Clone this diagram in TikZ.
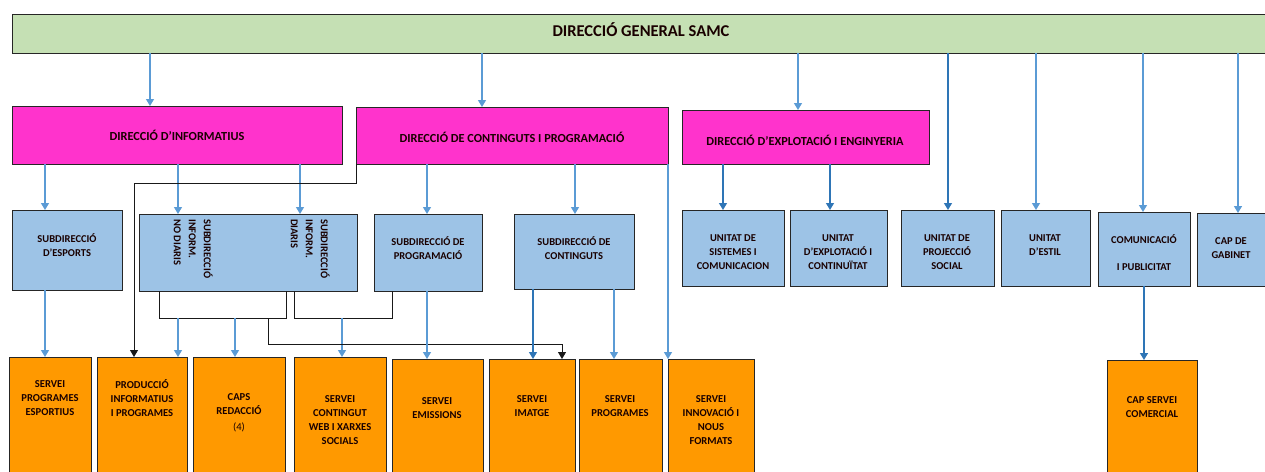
\documentclass[tikz,border=0pt]{standalone}
\usepackage{fontspec}
\setmainfont{Carlito}
\usetikzlibrary{arrows.meta}
\definecolor{gr}{HTML}{C5E0B4}
\definecolor{mag}{HTML}{FF33CC}
\definecolor{bl}{HTML}{9DC3E6}
\definecolor{org}{HTML}{FF9900}
\definecolor{ln}{HTML}{5B9BD5}
\definecolor{lnd}{HTML}{2E75B6}
\newcommand\bx[6]{\node[bxs, fill=#6, minimum width={#4-#2}, minimum height={#5-#3}, anchor=north west] (#1) at (#2,#3) {};}
\begin{document}
\begin{tikzpicture}[x=1pt,y=-1pt,
  bxs/.style={draw=black!85, line width=0.9pt, inner sep=0pt, outer sep=0pt, rectangle},
  tx/.style={align=center, inner sep=0pt, text=black!90!red},
  ttop/.style={tx, font=\fontsize{16.5}{18}\selectfont\bfseries},
  tdir/.style={tx, font=\fontsize{12.3}{14}\selectfont\bfseries},
  tsub/.style={tx, font=\fontsize{10.5}{14}\selectfont\bfseries},
  tsrv/.style={tx, font=\fontsize{10.6}{14}\selectfont\bfseries},
  ba/.style={draw=ln, line width=1.3pt, -{Triangle[width=8pt,length=7pt]}},
  bd/.style={draw=lnd, line width=1.3pt, -{Triangle[width=8pt,length=7pt]}},
  ka/.style={draw=black!90, line width=0.9pt, -{Triangle[width=8pt,length=7pt]}},
  kl/.style={draw=black!90, line width=0.9pt}]
\useasboundingbox (0,0) rectangle (1265,471);
% top
\bx{top}{12}{14}{1275}{53}{gr}
\node[ttop] (ttop) at (641,30) {DIRECCIÓ GENERAL SAMC};
% directors
\bx{dinf}{12}{106}{342}{164}{mag}
\node[tdir] (tdinf) at (177,135) {DIRECCIÓ D’INFORMATIUS};
\bx{dcont}{356}{107}{668}{164}{mag}
\node[tdir] (tdcont) at (512,137) {DIRECCIÓ DE CONTINGUTS I PROGRAMACIÓ};
\bx{dexp}{682}{110}{929}{164}{mag}
\node[tdir] (tdexp) at (805,140) {DIRECCIÓ D’EXPLOTACIÓ I ENGINYERIA};
% sub row
\bx{sesp}{12}{210}{122}{290}{bl}
\node[tsub] (tsesp) at (67,245) {SUBDIRECCIÓ\\D’ESPORTS};
\bx{sinf}{139}{214}{357}{291}{bl}
\node[tsub, rotate=-90, align=left, anchor=north west, font=\fontsize{10.5}{15}\selectfont\bfseries] (tsinf1) at (213,219) {SUBDIRECCIÓ\\INFORM.\\NO DIARIS};
\node[tsub, rotate=-90, align=left, anchor=north west, font=\fontsize{10.5}{15}\selectfont\bfseries] (tsinf2) at (330,219) {SUBDIRECCIÓ\\INFORM.\\DIARIS};
\bx{sprog}{374}{214}{482}{291}{bl}
\node[tsub] (tsprog) at (428,248) {SUBDIRECCIÓ DE\\PROGRAMACIÓ};
\bx{scont}{514}{214}{634}{289}{bl}
\node[tsub] (tscont) at (574,248) {SUBDIRECCIÓ DE\\CONTINGUTS};
\bx{usis}{682}{210}{784}{286}{bl}
\node[tsub] (tusis) at (733,252) {UNITAT DE\\SISTEMES I\\COMUNICACION};
\bx{uexp}{790}{210}{887}{286}{bl}
\node[tsub] (tuexp) at (838,252) {UNITAT\\D’EXPLOTACIÓ I\\CONTINUÏTAT};
\bx{uproj}{901}{210}{994}{286}{bl}
\node[tsub] (tuproj) at (947,252) {UNITAT DE\\PROJECCIÓ\\SOCIAL};
\bx{uest}{1001}{210}{1090}{286}{bl}
\node[tsub] (tuest) at (1045,245) {UNITAT\\D’ESTIL};
\bx{ucom}{1098}{212}{1190}{286}{bl}
\node[tsub] (tucom) at (1144,253) {COMUNICACIÓ\\[13pt]I PUBLICITAT};
\bx{ugab}{1197}{213}{1272}{286}{bl}
\node[tsub] (tugab) at (1231,248) {CAP DE\\GABINET};
% services
\bx{spe}{9}{357}{91}{490}{org}
\node[tsrv] (tspe) at (50,398) {SERVEI\\PROGRAMES\\ESPORTIUS};
\bx{prod}{97}{357}{187}{490}{org}
\node[tsrv] (tprod) at (142,398) {PRODUCCIÓ\\INFORMATIUS\\I PROGRAMES};
\bx{caps}{193}{357}{285}{490}{org}
\node[tsrv] (tcaps) at (239,413) {CAPS\\REDACCIÓ\\[2pt]{\mdseries (4)}};
\bx{web}{294}{357}{386}{490}{org}
\node[tsrv] (tweb) at (340,420) {SERVEI\\CONTINGUT\\WEB I XARXES\\SOCIALS};
\bx{emi}{392}{359}{483}{490}{org}
\node[tsrv] (temi) at (437,408) {SERVEI\\EMISSIONS};
\bx{ima}{489}{359}{575}{490}{org}
\node[tsrv] (tima) at (532,406) {SERVEI\\IMATGE};
\bx{pgm}{579}{359}{662}{490}{org}
\node[tsrv] (tpgm) at (620,406) {SERVEI\\PROGRAMES};
\bx{inn}{668}{359}{754}{490}{org}
\node[tsrv] (tinn) at (711,420) {SERVEI\\INNOVACIÓ I\\NOUS\\FORMATS};
\bx{com}{1107}{360}{1197}{490}{org}
\node[tsrv] (tcom) at (1152,407) {CAP SERVEI\\COMERCIAL};
% connectors from top
\draw[ba] (top.south -| 150,0) -- (dinf.north -| 150,0);
\draw[ba] (top.south -| 482,0) -- (dcont.north -| 482,0);
\draw[ba] (top.south -| 798,0) -- (dexp.north -| 798,0);
\draw[bd] (top.south -| 948,0) -- (uproj.north -| 948,0);
\draw[ba] (top.south -| 1036,0) -- (uest.north -| 1036,0);
\draw[ba] (top.south -| 1143,0) -- (ucom.north -| 1143,0);
\draw[ba] (top.south -| 1238,0) -- (ugab.north -| 1238,0);
% from directors
\draw[ba] (dinf.south -| 45,0) -- (sesp.north -| 45,0);
\draw[ba] (dinf.south -| 178,0) -- (sinf.north -| 178,0);
\draw[ba] (dinf.south -| 300,0) -- (sinf.north -| 300,0);
\draw[ba] (dcont.south -| 427,0) -- (sprog.north -| 427,0);
\draw[ba] (dcont.south -| 575,0) -- (scont.north -| 575,0);
\draw[ba] (dcont.south -| 668,0) -- (inn.north -| 668,0);
\draw[bd] (dexp.south -| 723,0) -- (usis.north -| 723,0);
\draw[bd] (dexp.south -| 830,0) -- (uexp.north -| 830,0);
% black link
\draw[ka] (dcont.south west) -- (356,183) -- (134,183) -- (prod.north -| 134,0);
% brackets
\coordinate (j1) at (159,318);
\coordinate (j2) at (286,318);
\coordinate (j3) at (294,318);
\coordinate (j4) at (392,318);
\draw[kl] (sinf.south -| j1) -- (j1) -- (j2) -- (sinf.south -| j2);
\draw[kl] (sinf.south -| j3) -- (j3) -- (j4) -- (sprog.south -| j4);
\draw[ba] (178,318) -- (prod.north -| 178,0);
\draw[ba] (235,318) -- (caps.north -| 235,0);
\draw[ba] (342,318) -- (web.north -| 342,0);
\draw[ka] (268,318) -- (268,344) -- (562,344) -- (ima.north -| 562,0);
% sub to services
\draw[ba] (sesp.south -| 45,0) -- (spe.north -| 45,0);
\draw[ba] (sprog.south -| 427,0) -- (emi.north -| 427,0);
\draw[bd] (scont.south -| 533,0) -- (ima.north -| 533,0);
\draw[ba] (scont.south -| 614,0) -- (pgm.north -| 614,0);
\draw[bd] (ucom.south -| 1144,0) -- (com.north -| 1144,0);
\end{tikzpicture}
\end{document}
